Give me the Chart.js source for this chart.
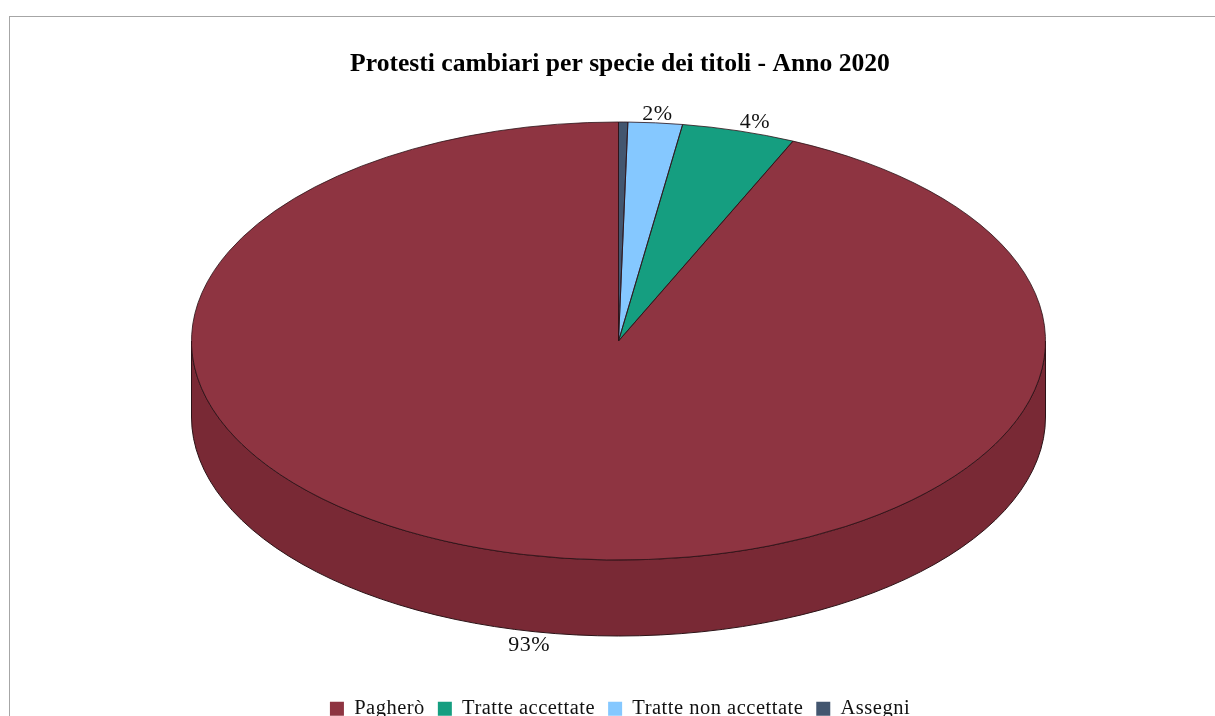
<!DOCTYPE html>
<html lang="it">
<head>
<meta charset="utf-8">
<title>Protesti cambiari per specie dei titoli - Anno 2020</title>
<script src="https://cdn.jsdelivr.net/npm/chart.js@4/dist/chart.umd.min.js"></script>
<style>
  html, body { margin: 0; padding: 0; background: #fff; overflow: hidden; }
  #wrap { position: relative; width: 1215px; height: 716px; }
  #frame { position: absolute; left: 9px; top: 16px; right: 0; bottom: 0; border-left: 1px solid #a6a6a6; border-top: 1px solid #a6a6a6; }
  canvas { position: absolute; left: 0; top: 0; }
</style>
</head>
<body>
<div id="wrap">
  <div id="frame"></div>
  <canvas id="pie3d" width="1215" height="716"></canvas>
</div>
<script>
// slices run clockwise from 12 o'clock, the legend shows them reversed
const categories = ["Assegni", "Tratte non accettate", "Tratte accettate", "Pagherò"];
const shares = [0.35, 2.05, 4.3, 93.3];
const topColors = ["#43566f", "#85c8ff", "#159e80", "#8e3441"];
const sideColors = ["#364659", "#6aa0cc", "#117f66", "#792935"];

// shape of the tilted pie on the page
const pieX = 618.5;
const pieY = 341;
const pieRx = 427;
const pieRy = 219;
const pieDepth = 76;
const labelNudge = [null, [2, -9], [16, -9], [0, 90]];

const SERIF = "'Liberation Serif', 'Times New Roman', serif";
const outline = "#2b1216";

function tilt(ctx, arc) {
  ctx.translate(pieX, pieY);
  ctx.scale(pieRx / arc.outerRadius, pieRy / arc.outerRadius);
  ctx.translate(-arc.x, -arc.y);
}

const pie3d = {
  id: "pie3d",
  beforeLayout(chart) {
    // legend and labels are slightly spaced out, the title is not
    chart.ctx.letterSpacing = "0.5px";
  },
  afterLayout(chart) {
    const title = chart.titleBlock;
    if (title._plainDraw) return;
    title._plainDraw = title.draw;
    title.draw = function () {
      chart.ctx.save();
      chart.ctx.letterSpacing = "0px";
      title._plainDraw();
      chart.ctx.restore();
    };
  },
  beforeDatasetsDraw(chart) {
    const ctx = chart.ctx;
    const arcs = chart.getDatasetMeta(0).data;
    // side wall, only the part of each slice that faces the viewer
    arcs.forEach((arc, i) => {
      const from = Math.max(arc.startAngle, 0);
      const to = Math.min(arc.endAngle, Math.PI);
      if (to <= from) return;
      ctx.beginPath();
      ctx.ellipse(pieX, pieY, pieRx, pieRy, 0, from, to);
      ctx.ellipse(pieX, pieY + pieDepth, pieRx, pieRy, 0, to, from, true);
      ctx.closePath();
      ctx.fillStyle = sideColors[i];
      ctx.fill();
      ctx.strokeStyle = outline;
      ctx.lineWidth = 1;
      ctx.stroke();
    });
    ctx.save();
    tilt(ctx, arcs[0]);
  },
  afterDatasetsDraw(chart) {
    const ctx = chart.ctx;
    ctx.restore();
    const arcs = chart.getDatasetMeta(0).data;
    arcs.forEach((arc, i) => {
      ctx.beginPath();
      ctx.moveTo(pieX, pieY);
      ctx.ellipse(pieX, pieY, pieRx, pieRy, 0, arc.startAngle, arc.endAngle);
      ctx.closePath();
      ctx.strokeStyle = outline;
      ctx.lineWidth = 0.8;
      ctx.stroke();

      // percent labels, slices under 1% have none
      const pct = Math.round(shares[i]);
      if (pct < 1) return;
      const mid = (arc.startAngle + arc.endAngle) / 2;
      ctx.font = "22px " + SERIF;
      ctx.fillStyle = "#111";
      ctx.textAlign = "center";
      ctx.textBaseline = "middle";
      ctx.fillText(
        pct + "%",
        pieX + pieRx * Math.cos(mid) + labelNudge[i][0],
        pieY + pieRy * Math.sin(mid) + labelNudge[i][1]
      );
    });
  },
};

new Chart(document.getElementById("pie3d"), {
  type: "pie",
  data: {
    labels: categories,
    datasets: [
      {
        data: shares,
        backgroundColor: topColors,
        borderWidth: 0,
        clip: false,
      },
    ],
  },
  options: {
    responsive: false,
    animation: false,
    layout: { padding: { left: 25, right: 0, top: 0, bottom: -13 } },
    plugins: {
      title: {
        display: true,
        text: "Protesti cambiari per specie dei titoli - Anno 2020",
        color: "#000",
        font: { family: SERIF, size: 25.6, weight: "bold" },
        padding: { top: 49, bottom: 10 },
      },
      legend: {
        position: "bottom",
        reverse: true,
        labels: {
          color: "#111",
          font: { family: SERIF, size: 20.5 },
          boxWidth: 14,
          boxHeight: 14,
          padding: 13,
        },
      },
      tooltip: { enabled: false },
    },
  },
  plugins: [pie3d],
});
</script>
</body>
</html>
